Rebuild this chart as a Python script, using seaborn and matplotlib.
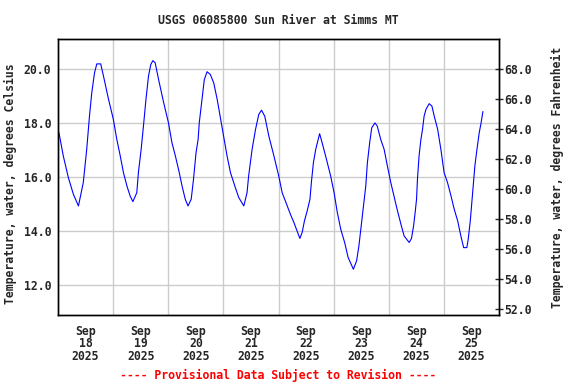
import matplotlib
matplotlib.use('Agg')
import matplotlib.pyplot as plt
import numpy as np
import pandas as pd
import seaborn as sns

# hours after 2025-09-18 00:00 and water temperature (deg C)
hours = [0.4, 2.3, 4.5, 6.7, 8.9, 11.0, 12.5, 13.7, 14.7, 15.9, 16.9, 18.6,
         19.8, 22.0, 24.1, 25.6, 27.1, 28.5, 30.0, 31.4, 32.6, 34.3, 35.0,
         36.2, 37.2, 38.3, 39.4, 40.4, 41.3, 42.3, 43.8, 46.0, 48.1, 49.6,
         51.1, 52.8, 54.0, 55.4, 56.6, 58.0, 59.0, 60.1, 61.0, 61.5, 62.7,
         63.7, 64.9, 66.3, 67.8, 69.3, 70.7, 72.1, 73.6, 75.1, 77.2, 78.7,
         80.9, 82.3, 83.0, 84.5, 86.0, 87.4, 88.6, 90.0, 91.8, 94.0, 96.1,
         97.6, 99.8, 101.2, 102.7, 105.3, 106.3, 107.3, 108.5, 109.7, 110.3,
         111.2, 112.2, 113.9, 114.6, 116.5, 118.7, 120.2, 121.6, 123.1, 124.8,
         126.3, 128.6, 130.0, 131.0, 132.0, 133.0, 134.0, 134.7, 135.7, 136.6,
         138.0, 139.0, 140.5, 142.0, 143.4, 144.9, 146.6, 147.8, 149.5, 150.7,
         152.9, 153.9, 154.8, 155.5, 156.1, 156.5, 157.2, 158.0, 158.7, 159.4,
         160.2, 161.6, 162.8, 163.8, 165.3, 166.7, 168.1, 169.6, 171.1, 172.5,
         174.0, 175.4, 176.6, 178.0, 178.6, 179.5, 180.5, 181.5, 182.4, 183.4,
         184.2, 185.0]
temps = [17.64, 16.78, 15.98, 15.36, 14.93, 15.79, 17.02, 18.25, 19.11, 19.85,
         20.18, 20.18, 19.73, 18.87, 18.13, 17.39, 16.78, 16.16, 15.67, 15.30,
         15.09, 15.42, 16.16, 17.02, 17.88, 18.87, 19.73, 20.16, 20.30, 20.22,
         19.60, 18.75, 18.00, 17.27, 16.78, 16.16, 15.67, 15.18, 14.93, 15.18,
         15.92, 16.90, 17.39, 18.00, 18.87, 19.60, 19.89, 19.79, 19.48, 18.87,
         18.19, 17.51, 16.78, 16.16, 15.61, 15.24, 14.93, 15.42, 16.04, 17.02,
         17.76, 18.31, 18.47, 18.25, 17.51, 16.78, 16.04, 15.42, 14.93, 14.62,
         14.32, 13.73, 13.95, 14.38, 14.75, 15.18, 15.79, 16.53, 17.02, 17.60,
         17.39, 16.78, 16.04, 15.42, 14.69, 14.07, 13.58, 13.03, 12.59, 12.90,
         13.45, 14.19, 14.93, 15.67, 16.53, 17.27, 17.82, 18.00, 17.88, 17.39,
         17.02, 16.41, 15.79, 15.18, 14.75, 14.19, 13.82, 13.58, 13.73, 14.19,
         14.69, 15.18, 15.92, 16.78, 17.39, 17.76, 18.25, 18.50, 18.71, 18.62,
         18.25, 17.76, 17.02, 16.16, 15.79, 15.30, 14.81, 14.38, 13.82, 13.39,
         13.39, 13.70, 14.38, 15.42, 16.41, 17.02, 17.64, 18.00, 18.42]

day_labels = ['Sep\n18\n2025', 'Sep\n19\n2025', 'Sep\n20\n2025', 'Sep\n21\n2025',
              'Sep\n22\n2025', 'Sep\n23\n2025', 'Sep\n24\n2025', 'Sep\n25\n2025']
celsius_ticks = [12, 14, 16, 18, 20]
fahrenheit_ticks = [52, 54, 56, 58, 60, 62, 64, 66, 68]

start = pd.Timestamp('2025-09-18')
df = pd.DataFrame({'datetime': start + pd.to_timedelta(hours, unit='h'),
                   'temp': temps})

sns.set_style('white')
plt.rcParams['font.family'] = ['DejaVu Sans Mono']
plt.rcParams['font.weight'] = 'bold'
plt.rcParams['font.size'] = 8.3

fig = plt.figure(figsize=(5.76, 3.84), dpi=100)
ax = fig.add_axes([58 / 576, 1 - 315 / 384, 441 / 576, 276 / 384])

sns.lineplot(data=df, x='datetime', y='temp', ax=ax, color='#0000ff',
             linewidth=0.8)

ylo, yhi = 10.9, 21.1
ax.set_xlim(start, start + pd.Timedelta(days=8))
ax.set_ylim(ylo, yhi)

# gridlines at midnight, labels at noon
ax.set_xticks([start + pd.Timedelta(days=d) for d in range(1, 8)], minor=True)
ax.set_xticks([start + pd.Timedelta(hours=12 + 24 * d) for d in range(8)])
ax.set_xticklabels(day_labels, fontweight='bold', linespacing=0.95)
ax.set_yticks(celsius_ticks)
ax.set_yticklabels([f'{v:.1f}' for v in celsius_ticks], fontweight='bold')
ax.tick_params(axis='both', which='both', length=0)
ax.tick_params(axis='x', pad=7)
ax.tick_params(axis='y', pad=5)
ax.grid(which='minor', axis='x', color='#cccccc', linewidth=1)
ax.grid(which='major', axis='y', color='#cccccc', linewidth=1)
ax.grid(which='major', axis='x', visible=False)
ax.set_xlabel('')
ax.set_ylabel('Temperature, water, degrees Celsius', fontweight='bold')
ax.yaxis.set_label_coords(-0.094, 0.476)
for s in ax.spines.values():
    s.set_color('black')
    s.set_linewidth(1)

ax2 = ax.twinx()
ax2.set_ylim(ylo * 1.8 + 32, yhi * 1.8 + 32)
ax2.set_yticks(fahrenheit_ticks)
ax2.set_yticklabels([f'{v:.1f}' for v in fahrenheit_ticks], fontweight='bold')
ax2.tick_params(axis='y', direction='inout', length=6, width=1, pad=1)
ax2.set_ylabel('Temperature, water, degrees Fahrenheit', fontweight='bold')
ax2.yaxis.set_label_coords(1.117, 0.5)
ax2.grid(False)
for s in ax2.spines.values():
    s.set_color('black')
    s.set_linewidth(1)

fig.text(0.5 * (58 + 499) / 576, 1 - 21 / 384,
         'USGS 06085800 Sun River at Simms MT', ha='center', va='center',
         fontweight='bold')
fig.text(0.5 * (58 + 499) / 576, 1 - 375 / 384,
         '---- Provisional Data Subject to Revision ----', ha='center',
         va='center', color='#ff0000', fontweight='bold')

fig.savefig('out.png', dpi=100)
